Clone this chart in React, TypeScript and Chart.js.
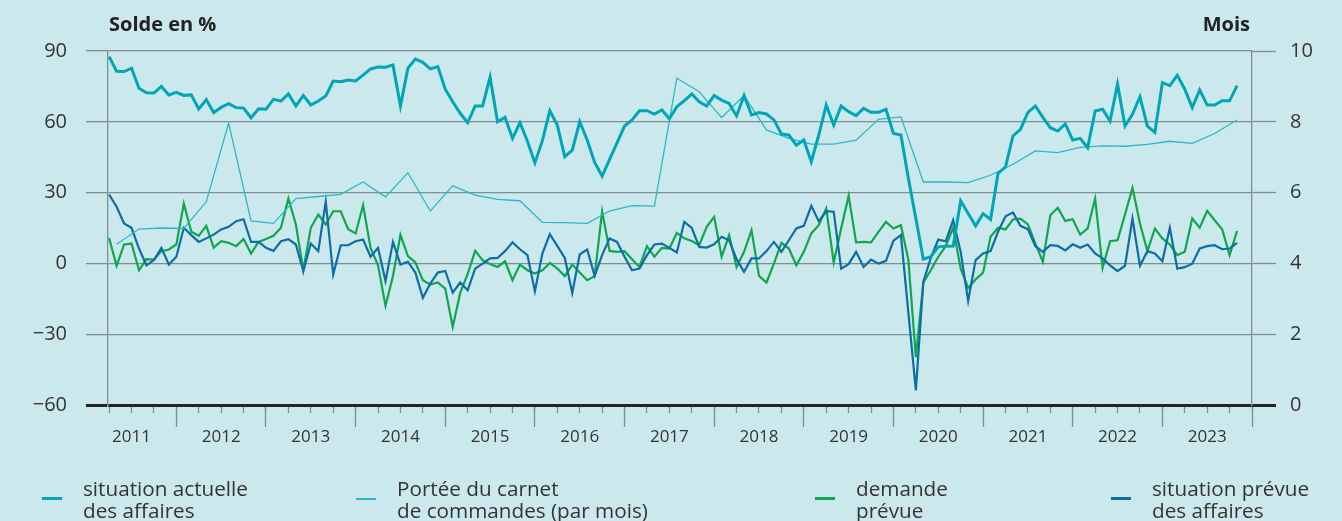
import React, { useEffect, useRef } from 'react';
import { Chart, registerables } from 'chart.js';

Chart.register(...registerables);

// ---------- data ----------
const FIRST_YEAR = 2011;
const FIRST_MONTH = 4; // monthly series start April 2011
const FIRST_QUARTER = 2; // quarterly series start Q2 2011

const situationActuelle = [
  87.6, 81.4, 81.3, 82.7, 74.2, 72.3, 72.2, 75.0, 71.4,
  72.5, 71.2, 71.4, 65.4, 69.4, 63.9, 66.1, 67.7, 66.0, 65.8, 61.7, 65.5,
  65.3, 69.5, 68.8, 71.8, 66.7, 71.1, 67.1, 68.8, 70.9, 77.3, 77.0, 77.7,
  77.3, 79.8, 82.4, 83.2, 83.1, 84.1, 66.7, 82.7, 86.6, 85.2, 82.4, 83.4,
  73.8, 68.5, 63.6, 59.6, 66.7, 66.7, 78.9, 60.0, 61.9, 53.0, 59.6, 51.8,
  42.6, 52.0, 64.7, 58.6, 45.2, 48.0, 60.0, 52.3, 42.8, 37.0, 44.1, 51.1,
  58.2, 60.8, 64.7, 64.7, 63.3, 65.0, 61.3, 66.4, 68.9, 71.8, 68.5, 66.7,
  71.1, 69.2, 67.8, 62.5, 71.1, 62.9, 63.9, 63.3, 60.8, 54.8, 54.4, 50.1,
  52.3, 43.1, 54.4, 67.1, 58.6, 66.7, 64.3, 62.6, 65.7, 64.0, 64.0, 65.3,
  55.1, 54.4, 36.0, 19.0, 1.8, 2.8, 7.0, 7.3, 7.4, 26.5, 21.1, 15.9,
  21.1, 18.6, 38.1, 40.9, 54.0, 56.8, 64.0, 66.7, 61.9, 57.5, 56.1, 59.1,
  52.3, 53.0, 49.0, 64.6, 65.3, 60.3, 76.0, 58.2, 63.2, 70.6, 58.2, 55.5,
  76.6, 75.3, 79.7, 73.8, 66.0, 73.5, 67.1, 67.1, 68.9, 68.9, 75.3,
];

const demandePrevue = [
  10.8, -1.0, 8.0, 8.4, -2.9, 1.8, 1.6, 5.2, 5.9,
  8.0, 25.4, 13.4, 11.7, 15.9, 6.7, 9.4, 8.7, 7.3, 10.3, 4.2, 9.1,
  10.3, 11.7, 15.1, 27.5, 16.5, -2.9, 15.1, 20.7, 16.5, 22.1, 22.1, 14.5,
  12.7, 24.7, 6.6, -0.8, -18.0, -5.3, 12.1, 3.1, 0.4, -7.1, -9.0, -8.1,
  -10.7, -26.9, -12.5, -4.5, 5.3, 1.4, -0.3, -1.5, 0.9, -7.1, -0.5, -2.9,
  -4.3, -2.9, 0.2, -2.2, -5.4, -0.5, -3.9, -7.1, -5.4, 22.1, 5.3, 4.9,
  5.2, 1.8, -1.5, 7.3, 2.8, 6.6, 6.3, 12.9, 10.6, 9.5, 7.7, 15.5,
  19.7, 2.8, 12.0, -1.5, 4.9, 14.1, -5.3, -8.1, -0.1, 8.7, 6.3, -0.8,
  4.9, 12.7, 16.2, 23.3, 0.4, 14.8, 28.7, 8.9, 9.1, 8.9, 13.4, 17.6,
  14.8, 16.2, 1.4, -39.7, -8.1, -2.9, 2.8, 7.3, 15.1, -2.2, -10.4, -6.8,
  -3.9, 11.3, 15.1, 14.4, 18.6, 19.0, 16.5, 8.4, 0.7, 20.4, 23.6, 18.0,
  18.7, 12.2, 14.8, 27.5, -1.9, 9.4, 9.8, 20.7, 32.0, 16.9, 5.2, 14.8,
  10.6, 8.0, 3.5, 4.9, 19.0, 15.1, 22.3, 18.3, 14.5, 3.5, 13.8,
];

const situationPrevue = [
  29.2, 24.0, 16.9, 15.1, 6.3, -0.8, 1.4, 6.6, -0.5,
  2.8, 15.1, 12.0, 9.1, 10.6, 12.2, 14.4, 15.5, 17.9, 18.7, 9.1, 9.1,
  6.6, 5.3, 9.4, 10.3, 8.0, -3.3, 8.4, 5.2, 26.1, -4.7, 7.7, 7.7,
  9.4, 10.1, 2.8, 6.6, -7.5, 9.1, -0.5, 0.7, -3.9, -14.6, -8.5, -3.9,
  -3.2, -12.4, -8.1, -11.4, -2.2, -0.1, 2.1, 2.3, 5.2, 8.9, 6.0, 3.5,
  -11.8, 4.2, 12.4, 7.4, 2.3, -12.5, 3.8, 5.9, -5.3, 3.5, 10.6, 9.1,
  2.8, -2.9, -2.2, 3.5, 8.0, 8.4, 6.6, 4.6, 17.6, 15.0, 7.0, 6.7,
  8.1, 11.3, 9.8, 1.8, -3.6, 2.1, 2.1, 5.2, 9.1, 4.9, 9.8, 14.8,
  15.9, 24.4, 17.9, 22.1, 21.9, -2.2, -0.3, 4.9, -1.5, 1.6, -0.1, 1.1,
  9.6, 12.0, -21.0, -53.8, -7.8, 2.3, 10.1, 9.4, 18.3, 4.9, -15.9, 1.4,
  4.2, 5.2, 13.4, 20.0, 21.6, 15.9, 14.5, 7.3, 4.9, 7.7, 7.4, 5.5,
  8.1, 6.6, 8.0, 4.2, 2.1, -0.8, -3.3, -1.0, 19.0, -1.0, 5.2, 4.2,
  0.9, 15.1, -2.2, -1.6, -0.1, 6.3, 7.3, 7.7, 6.0, 6.3, 8.7,
];

// months (right axis), quarterly, Q2 2011 .. Q4 2023
const porteeCarnet = [
  4.54, 4.97, 5.0, 4.99, 5.74, 7.96, 5.2, 5.13, 5.83, 5.89,
  5.95, 6.3, 5.88, 6.56, 5.48, 6.19, 5.93, 5.81, 5.77, 5.16,
  5.15, 5.13, 5.48, 5.63, 5.62, 9.23, 8.85, 8.12, 8.74, 7.77,
  7.53, 7.37, 7.37, 7.48, 8.07, 8.14, 6.3, 6.3, 6.28, 6.49,
  6.8, 7.18, 7.13, 7.28, 7.32, 7.31, 7.36, 7.45, 7.39, 7.67, 8.05,
];

const yearLabels = ['2011', '2012', '2013', '2014', '2015', '2016', '2017', '2018', '2019', '2020', '2021', '2022', '2023'];
const leftTicks = [-60, -30, 0, 30, 60, 90];
const rightTicks = [0, 2, 4, 6, 8, 10];

const legendItems = [
  { lines: ['situation actuelle', 'des affaires'], color: '#00a5b6', width: 3 },
  { lines: ['Portée du carnet', 'de commandes (par mois)'], color: '#2cb7c8', width: 1.5 },
  { lines: ['demande', 'prévue'], color: '#0fa64e', width: 3 },
  { lines: ['situation prévue', 'des affaires'], color: '#0d6ea6', width: 3 },
];

// ---------- helpers ----------
// month index: 0 = January of FIRST_YEAR (placed at the start of the month)
const monthSeries = (values: number[]) =>
  values.map((v, i) => ({ x: FIRST_MONTH - 1 + i, y: v }));
// quarterly values placed at the middle month of the quarter
const quarterSeries = (values: number[]) =>
  values.map((v, i) => ({ x: 3 * (FIRST_QUARTER - 1 + i) + 1, y: v }));

const X_MIN = 2.85;
const X_MAX = 12 * yearLabels.length;

const FONT = '"Open Sans", "DejaVu Sans", sans-serif';
const GRID = '#7e8e92';
const DARK = '#252525';
const BG = '#cbe9ed';

const fmt = (v: number) => (v < 0 ? '\u2212' + Math.abs(v) : String(v));

export default function App() {
  const ref = useRef<HTMLCanvasElement | null>(null);

  useEffect(() => {
    if (!ref.current) return;
    const chart = new Chart(ref.current, {
      type: 'line',
      data: {
        datasets: [
          {
            label: 'situation actuelle des affaires',
            data: monthSeries(situationActuelle),
            borderColor: legendItems[0].color,
            borderWidth: 3,
            yAxisID: 'y',
            order: 1,
          },
          {
            label: 'Portée du carnet de commandes (par mois)',
            data: quarterSeries(porteeCarnet),
            borderColor: legendItems[1].color,
            borderWidth: 1.3,
            yAxisID: 'y1',
            order: 2,
          },
          {
            label: 'demande prévue',
            data: monthSeries(demandePrevue),
            borderColor: legendItems[2].color,
            borderWidth: 2.2,
            yAxisID: 'y',
            order: 4,
          },
          {
            label: 'situation prévue des affaires',
            data: monthSeries(situationPrevue),
            borderColor: legendItems[3].color,
            borderWidth: 2.2,
            yAxisID: 'y',
            order: 3,
          },
        ],
      },
      options: {
        responsive: false,
        animation: false,
        devicePixelRatio: 1,
        layout: { padding: { left: 0, right: 0, top: 51, bottom: 116 } },
        elements: {
          point: { radius: 0, hoverRadius: 0 },
          line: { tension: 0, fill: false, borderJoinStyle: 'miter' },
        },
        plugins: { legend: { display: false }, tooltip: { enabled: false }, title: { display: false } },
        events: [],
        scales: {
          x: {
            type: 'linear',
            position: { y: -60 } as any,
            min: X_MIN,
            max: X_MAX,
            afterBuildTicks: (scale: any) => {
              const t = [];
              for (let m = 3; m <= X_MAX; m += 3) t.push({ value: m });
              scale.ticks = t;
            },
            grid: {
              drawOnChartArea: false,
              drawTicks: true,
              tickLength: 8,
              tickColor: GRID,
              tickWidth: 1.3,
            },
            border: { display: false },
            ticks: {
              autoSkip: false,
              maxRotation: 0,
              padding: 14,
              color: '#333',
              font: { family: FONT, size: 17 },
              callback: (value: any) => {
                const m = Number(value);
                if (m % 12 === 6) {
                  const idx = Math.floor(m / 12);
                  return yearLabels[idx] ?? '';
                }
                return '';
              },
            },
          },
          xMajor: {
            type: 'linear',
            axis: 'x',
            position: { y: -60 } as any,
            min: X_MIN,
            max: X_MAX,
            afterBuildTicks: (scale: any) => {
              const t = [];
              for (let m = 12; m <= X_MAX; m += 12) t.push({ value: m });
              scale.ticks = t;
            },
            grid: {
              drawOnChartArea: false,
              drawTicks: true,
              tickLength: 22,
              tickColor: GRID,
              tickWidth: 1.3,
            },
            border: { display: false },
            ticks: { autoSkip: false, maxRotation: 0, callback: () => '' },
          },
          y: {
            type: 'linear',
            position: 'left',
            min: -60,
            max: 90,
            afterBuildTicks: (scale: any) => {
              scale.ticks = leftTicks.map((v) => ({ value: v }));
            },
            afterFit: (scale: any) => {
              scale.width = 108;
            },
            grid: {
              color: (ctx: any) => (ctx.tick && ctx.tick.value === -60 ? DARK : GRID),
              lineWidth: (ctx: any) => (ctx.tick && ctx.tick.value === -60 ? 3 : 1.3),
              tickColor: (ctx: any) => (ctx.tick && ctx.tick.value === -60 ? DARK : GRID),
              tickWidth: (ctx: any) => (ctx.tick && ctx.tick.value === -60 ? 3 : 1.3),
              tickLength: 22,
              drawTicks: true,
            },
            border: { display: true, color: GRID, width: 1.3 },
            ticks: {
              padding: 19,
              color: '#333',
              font: { family: FONT, size: 20 },
              callback: (v: any) => fmt(Number(v)),
            },
          },
          y1: {
            type: 'linear',
            position: 'right',
            min: 0,
            max: 10,
            afterBuildTicks: (scale: any) => {
              scale.ticks = rightTicks.map((v) => ({ value: v }));
            },
            afterFit: (scale: any) => {
              scale.width = 90;
            },
            grid: {
              drawOnChartArea: false,
              tickColor: (ctx: any) => (ctx.tick && ctx.tick.value === 0 ? DARK : GRID),
              tickWidth: (ctx: any) => (ctx.tick && ctx.tick.value === 0 ? 3 : 1.3),
              tickLength: 24,
              drawTicks: true,
            },
            border: { display: true, color: GRID, width: 1.3 },
            ticks: {
              padding: 14,
              color: '#333',
              font: { family: FONT, size: 20 },
              callback: (v: any) => fmt(Number(v)),
            },
          },
        },
      },
    } as any);
    return () => chart.destroy();
  }, []);

  const legendX = [
    { marker: 42, text: 83 },
    { marker: 356, text: 397 },
    { marker: 815, text: 856 },
    { marker: 1111, text: 1152 },
  ];

  return (
    <div
      style={{
        position: 'absolute',
        left: 0,
        top: 0,
        width: 1342,
        height: 521,
        background: BG,
        overflow: 'hidden',
        fontFamily: FONT,
        color: '#222',
      }}
    >
      <canvas ref={ref} width={1342} height={521} style={{ position: 'absolute', left: 0, top: 0, width: 1342, height: 521 }} />
      <div style={{ position: 'absolute', left: 109, top: 11, fontSize: 20, fontWeight: 700, lineHeight: '26px', whiteSpace: 'nowrap' }}>
        Solde en %
      </div>
      <div style={{ position: 'absolute', right: 92, top: 11, fontSize: 20, fontWeight: 700, lineHeight: '26px', whiteSpace: 'nowrap' }}>
        Mois
      </div>
      {legendItems.map((item, i) => (
        <div key={i}>
          <div
            style={{
              position: 'absolute',
              left: legendX[i].marker,
              top: 499 - Math.round(item.width / 2),
              width: 20,
              height: item.width,
              background: item.color,
            }}
          />
          <div
            style={{
              position: 'absolute',
              left: legendX[i].text,
              top: 477,
              fontSize: 20.7,
              lineHeight: '22px',
              color: '#333',
              whiteSpace: 'nowrap',
            }}
          >
            {item.lines.map((l, j) => (
              <div key={j}>{l}</div>
            ))}
          </div>
        </div>
      ))}
    </div>
  );
}
